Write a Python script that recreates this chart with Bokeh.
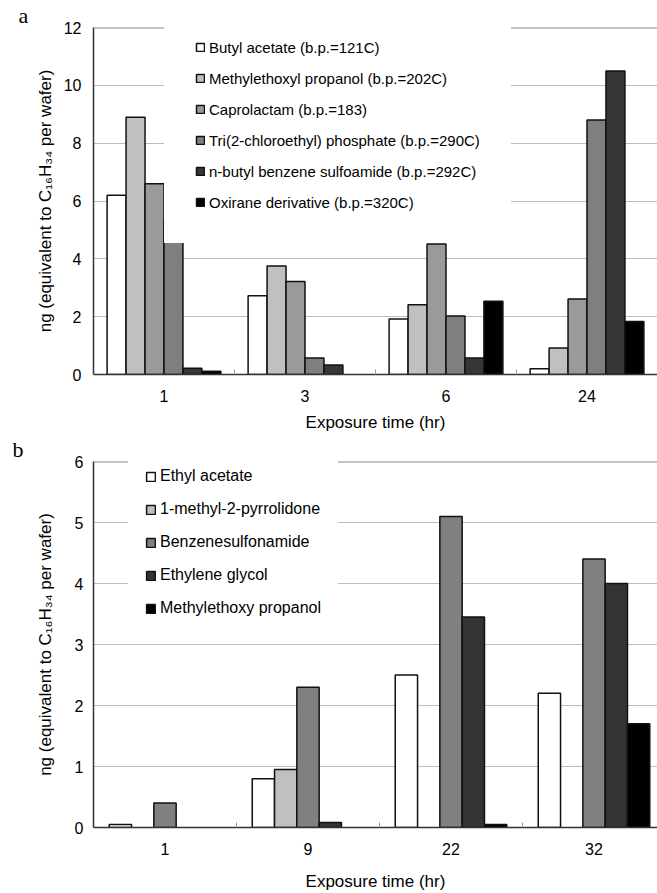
from bokeh.plotting import figure
from bokeh.models import FixedTicker, Span, Legend, LegendItem, Range1d
from bokeh.layouts import column
from bokeh.embed import file_html
from bokeh.resources import INLINE

FONT = "Liberation Sans"

# ---------------- Panel a data ----------------
times_a = ["1", "3", "6", "24"]
butyl_acetate = [6.2, 2.72, 1.92, 0.2]
methylethoxyl_propanol = [8.9, 3.75, 2.41, 0.92]
caprolactam = [6.6, 3.22, 4.51, 2.61]
tri_chloroethyl_phosphate = [5.35, 0.57, 2.02, 8.8]
n_butyl_benzene_sulfoamide = [0.22, 0.33, 0.57, 10.5]
oxirane_derivative = [0.11, 0.0, 2.53, 1.83]
series_a = [butyl_acetate, methylethoxyl_propanol, caprolactam,
            tri_chloroethyl_phosphate, n_butyl_benzene_sulfoamide, oxirane_derivative]
labels_a = ["Butyl acetate (b.p.=121C)",
            "Methylethoxyl propanol (b.p.=202C)",
            "Caprolactam (b.p.=183)",
            "Tri(2-chloroethyl) phosphate (b.p.=290C)",
            "n-butyl benzene sulfoamide (b.p.=292C)",
            "Oxirane derivative (b.p.=320C)"]
colors_a = ["#ffffff", "#c0c0c0", "#9a9a9a", "#7f7f7f", "#363636", "#000000"]
yticks_a = [0, 2, 4, 6, 8, 10, 12]

# ---------------- Panel b data ----------------
times_b = ["1", "9", "22", "32"]
ethyl_acetate = [0.05, 0.8, 2.5, 2.2]
methyl_pyrrolidone = [0.0, 0.95, 0.0, 0.0]
benzenesulfonamide = [0.4, 2.3, 5.1, 4.4]
ethylene_glycol = [0.0, 0.08, 3.45, 4.0]
methylethoxy_propanol = [0.0, 0.0, 0.05, 1.7]
series_b = [ethyl_acetate, methyl_pyrrolidone, benzenesulfonamide,
            ethylene_glycol, methylethoxy_propanol]
labels_b = ["Ethyl acetate", "1-methyl-2-pyrrolidone", "Benzenesulfonamide",
            "Ethylene glycol", "Methylethoxy propanol"]
colors_b = ["#ffffff", "#c0c0c0", "#808080", "#333333", "#000000"]
yticks_b = [0, 1, 2, 3, 4, 5, 6]

YLABEL = "ng (equivalent to C\u2081\u2086H\u2083\u2084 per wafer)"
XLABEL = "Exposure time (hr)"


def make_panel(tag, cats, series, labels, colors, yticks, width, height,
               border_left, border_top, border_bottom, x_end, bar_w,
               legend_loc, legend_pad, legend_spacing, glyph_size, legend_font,
               tick_standoff, xlabel_standoff, ytick_standoff, ylabel_standoff,
               tag_offset):
    ymax = yticks[-1]
    p = figure(width=width, height=height, output_backend="svg", toolbar_location=None,
               x_range=Range1d(0.5, x_end), y_range=Range1d(0, ymax),
               min_border_left=border_left, min_border_right=0,
               min_border_top=border_top, min_border_bottom=border_bottom)
    p.outline_line_color = None
    p.background_fill_color = "white"
    p.border_fill_color = "white"

    # panel letter as the figure title, pushed to the left margin
    p.title.text = tag
    p.title.align = "left"
    p.title.vertical_align = "bottom"
    p.title.offset = tag_offset
    p.title.standoff = 0
    p.title.text_font = "Liberation Serif"
    p.title.text_font_size = "22px"
    p.title.text_font_style = "normal"
    p.title.text_line_height = 0.4
    p.title.text_color = "black"

    n = len(series)
    items = []
    for i, (vals, lab, col) in enumerate(zip(series, labels, colors)):
        xs, tops = [], []
        for g, v in enumerate(vals):
            if v > 0:
                xs.append(g + 1 + (i - (n - 1) / 2.0) * bar_w)
                tops.append(v)
        r = p.vbar(x=xs, top=tops, width=bar_w, bottom=0, fill_color=col,
                   line_color="#111111", line_width=1.5)
        items.append(LegendItem(label=lab, renderers=[r]))

    # axes
    p.xaxis.ticker = FixedTicker(ticks=[1, 2, 3, 4], minor_ticks=[1.5, 2.5, 3.5])
    p.xaxis.major_label_overrides = {k + 1: c for k, c in enumerate(cats)}
    p.xaxis.major_tick_in = 0
    p.xaxis.major_tick_out = 0
    p.xaxis.minor_tick_in = 5
    p.xaxis.minor_tick_out = 0
    p.xaxis.minor_tick_line_color = "#999999"
    p.xaxis.axis_line_color = "#333333"
    p.xaxis.axis_line_width = 1.5
    p.xaxis.major_label_standoff = tick_standoff
    p.xaxis.axis_label = XLABEL
    p.xaxis.axis_label_standoff = xlabel_standoff

    p.yaxis.ticker = FixedTicker(ticks=yticks)
    p.yaxis.major_tick_in = 0
    p.yaxis.major_tick_out = 0
    p.yaxis.minor_tick_line_color = None
    p.yaxis.axis_line_color = "#333333"
    p.yaxis.axis_line_width = 1.5
    p.yaxis.major_label_standoff = ytick_standoff
    p.yaxis.axis_label = YLABEL
    p.yaxis.axis_label_standoff = ylabel_standoff

    for ax in (p.xaxis, p.yaxis):
        ax.major_label_text_font = FONT
        ax.major_label_text_font_size = "16px"
        ax.major_label_text_color = "black"
        ax.axis_label_text_font = FONT
        ax.axis_label_text_font_size = "17px"
        ax.axis_label_text_font_style = "normal"
        ax.axis_label_text_color = "black"

    p.xgrid.grid_line_color = None
    p.ygrid.ticker = FixedTicker(ticks=yticks[1:-1])
    p.ygrid.grid_line_color = "#bcbcbc"
    p.ygrid.grid_line_width = 1

    legend = Legend(items=items, location=legend_loc, padding=legend_pad,
                    spacing=legend_spacing, label_height=20,
                    glyph_width=glyph_size, glyph_height=glyph_size,
                    label_standoff=4, label_text_font=FONT,
                    label_text_font_size=legend_font, label_text_color="black",
                    background_fill_color="white", background_fill_alpha=1.0,
                    border_line_color="white", border_line_width=1)
    p.add_layout(legend)

    top = Span(location=ymax, dimension="width", line_color="#8a8a8a",
               line_width=2, level="overlay")
    p.add_layout(top)
    return p


pa = make_panel("a", times_a, series_a, labels_a, colors_a, yticks_a,
                width=657, height=434, border_left=92, border_top=24, border_bottom=60,
                x_end=4.5, bar_w=0.1345, legend_loc=(71, 131), legend_pad=30,
                legend_spacing=11, glyph_size=10, legend_font="15px",
                tick_standoff=15, xlabel_standoff=8, ytick_standoff=12, ylabel_standoff=6,
                tag_offset=-75)

pb = make_panel("b", times_b, series_b, labels_b, colors_b, yticks_b,
                width=657, height=459, border_left=93, border_top=26, border_bottom=65,
                x_end=4.444, bar_w=0.156, legend_loc=(35, 192), legend_pad=16,
                legend_spacing=13, glyph_size=11, legend_font="16px",
                tick_standoff=15, xlabel_standoff=14, ytick_standoff=10, ylabel_standoff=17,
                tag_offset=-81)

layout = column(pa, pb, spacing=0)
open("out.html", "w").write(file_html(layout, INLINE))
